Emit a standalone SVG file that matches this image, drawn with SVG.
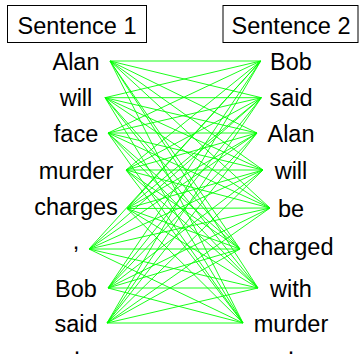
<svg xmlns="http://www.w3.org/2000/svg" width="359" height="354" viewBox="0 0 359 354">
  <style>
    text { font-family: "Liberation Sans", Arial, sans-serif; font-size: 23.5px; fill: #000; text-anchor: middle; }
    .box { fill: #fff; stroke: #000; stroke-width: 1; }
    #links line { stroke: #00ff00; stroke-width: 0.9; }
  </style>
  <rect width="359" height="354" fill="#fff"/>

  <!-- alignment links: every word of sentence 1 to every word of sentence 2 -->
  <g id="links">
    <g id="from-alan">
      <line x1="110" y1="61" x2="260.7" y2="61"/><line x1="110" y1="61" x2="261.3" y2="97.7"/><line x1="110" y1="61" x2="257" y2="133"/><line x1="110" y1="61" x2="263" y2="170"/>
      <line x1="110" y1="61" x2="270" y2="208"/><line x1="110" y1="61" x2="240" y2="249"/><line x1="110" y1="61" x2="258" y2="288"/><line x1="110" y1="61" x2="243" y2="323"/>
    </g>
    <g id="from-will">
      <line x1="105" y1="97.7" x2="260.7" y2="61"/><line x1="105" y1="97.7" x2="261.3" y2="97.7"/><line x1="105" y1="97.7" x2="257" y2="133"/><line x1="105" y1="97.7" x2="263" y2="170"/>
      <line x1="105" y1="97.7" x2="270" y2="208"/><line x1="105" y1="97.7" x2="240" y2="249"/><line x1="105" y1="97.7" x2="258" y2="288"/><line x1="105" y1="97.7" x2="243" y2="323"/>
    </g>
    <g id="from-face">
      <line x1="108" y1="133" x2="260.7" y2="61"/><line x1="108" y1="133" x2="261.3" y2="97.7"/><line x1="108" y1="133" x2="257" y2="133"/><line x1="108" y1="133" x2="263" y2="170"/>
      <line x1="108" y1="133" x2="270" y2="208"/><line x1="108" y1="133" x2="240" y2="249"/><line x1="108" y1="133" x2="258" y2="288"/><line x1="108" y1="133" x2="243" y2="323"/>
    </g>
    <g id="from-murder">
      <line x1="126" y1="170" x2="260.7" y2="61"/><line x1="126" y1="170" x2="261.3" y2="97.7"/><line x1="126" y1="170" x2="257" y2="133"/><line x1="126" y1="170" x2="263" y2="170"/>
      <line x1="126" y1="170" x2="270" y2="208"/><line x1="126" y1="170" x2="240" y2="249"/><line x1="126" y1="170" x2="258" y2="288"/><line x1="126" y1="170" x2="243" y2="323"/>
    </g>
    <g id="from-charges">
      <line x1="127" y1="208.5" x2="260.7" y2="61"/><line x1="127" y1="208.5" x2="261.3" y2="97.7"/><line x1="127" y1="208.5" x2="257" y2="133"/><line x1="127" y1="208.5" x2="263" y2="170"/>
      <line x1="127" y1="208.5" x2="270" y2="208"/><line x1="127" y1="208.5" x2="240" y2="249"/><line x1="127" y1="208.5" x2="258" y2="288"/><line x1="127" y1="208.5" x2="243" y2="323"/>
    </g>
    <g id="from-comma">
      <line x1="89" y1="249" x2="260.7" y2="61"/><line x1="89" y1="249" x2="261.3" y2="97.7"/><line x1="89" y1="249" x2="257" y2="133"/><line x1="89" y1="249" x2="263" y2="170"/>
      <line x1="89" y1="249" x2="270" y2="208"/><line x1="89" y1="249" x2="240" y2="249"/><line x1="89" y1="249" x2="258" y2="288"/><line x1="89" y1="249" x2="243" y2="323"/>
    </g>
    <g id="from-bob">
      <line x1="108" y1="288" x2="260.7" y2="61"/><line x1="108" y1="288" x2="261.3" y2="97.7"/><line x1="108" y1="288" x2="257" y2="133"/><line x1="108" y1="288" x2="263" y2="170"/>
      <line x1="108" y1="288" x2="270" y2="208"/><line x1="108" y1="288" x2="240" y2="249"/><line x1="108" y1="288" x2="258" y2="288"/><line x1="108" y1="288" x2="243" y2="323"/>
    </g>
    <g id="from-said">
      <line x1="107" y1="323" x2="260.7" y2="61"/><line x1="107" y1="323" x2="261.3" y2="97.7"/><line x1="107" y1="323" x2="257" y2="133"/><line x1="107" y1="323" x2="263" y2="170"/>
      <line x1="107" y1="323" x2="270" y2="208"/><line x1="107" y1="323" x2="240" y2="249"/><line x1="107" y1="323" x2="258" y2="288"/><line x1="107" y1="323" x2="243" y2="323"/>
    </g>
  </g>

  <!-- column headers -->
  <g id="head-1"><rect class="box" x="7.5" y="5.5" width="139" height="37"/><text x="77" y="34.3">Sentence 1</text></g>
  <g id="head-2"><rect class="box" x="223" y="5.5" width="135" height="37"/><text x="291" y="34.3">Sentence 2</text></g>

  <!-- sentence 1 words -->
  <g id="s1-alan"><text x="76" y="69.7">Alan</text></g>
  <g id="s1-will"><text x="76" y="106.4">will</text></g>
  <g id="s1-face"><text x="76" y="141.7">face</text></g>
  <g id="s1-murder"><text x="76" y="178.7">murder</text></g>
  <g id="s1-charges"><text x="76" y="214.5">charges</text></g>
  <g id="s1-comma"><text x="76" y="248.5">,</text></g>
  <g id="s1-bob"><text x="76" y="296.7">Bob</text></g>
  <g id="s1-said"><text x="76" y="331.7">said</text></g>
  <g id="s1-stop"><text x="77" y="354">.</text></g>

  <!-- sentence 2 words -->
  <g id="s2-bob"><text x="291" y="69.7">Bob</text></g>
  <g id="s2-said"><text x="291" y="106.4">said</text></g>
  <g id="s2-alan"><text x="291" y="141.7">Alan</text></g>
  <g id="s2-will"><text x="291" y="178.7">will</text></g>
  <g id="s2-be"><text x="291" y="216.7">be</text></g>
  <g id="s2-charged"><text x="291" y="255">charged</text></g>
  <g id="s2-with"><text x="291" y="296.7">with</text></g>
  <g id="s2-murder"><text x="291" y="331.7">murder</text></g>
  <g id="s2-stop"><text x="291" y="354">.</text></g>
</svg>
